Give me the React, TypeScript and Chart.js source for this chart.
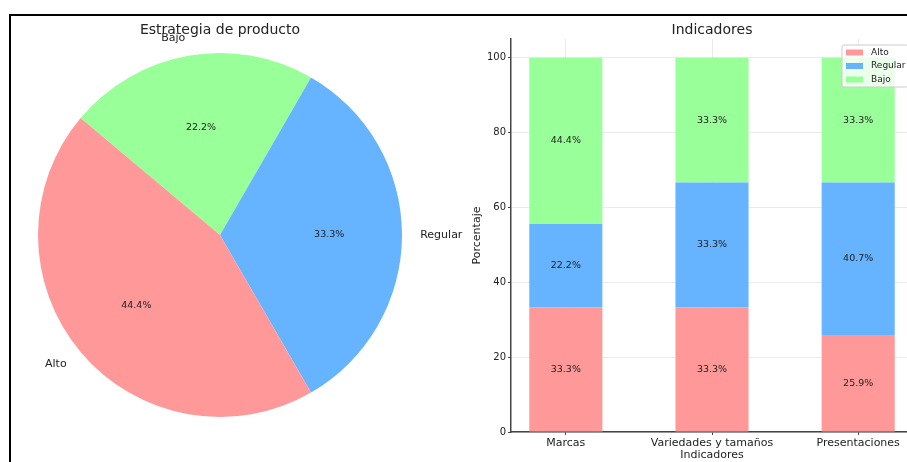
import React, { useEffect, useRef } from "react";
import { Chart, registerables } from "chart.js";

Chart.register(...registerables);

const FONT = '"DejaVu Sans", sans-serif';

// Pie data
const pieLabels = ["Alto", "Regular", "Bajo"];
const pieValues = [44.4, 33.3, 22.2];
const pieColors = ["#ff9999", "#66b3ff", "#99ff99"];

// Bar data
const barCategories = ["Marcas", "Variedades y tamaños", "Presentaciones"];
const seriesNames = ["Alto", "Regular", "Bajo"];
const altoValues = [33.3, 33.3, 25.9];
const regularValues = [22.2, 33.3, 40.7];
const bajoValues = [44.4, 33.3, 33.3];
const seriesColors = ["#ff9999", "#66b3ff", "#99ff99"];
const yTicks = [0, 20, 40, 60, 80, 100];

const pieTitle = "Estrategia de producto";
const barTitle = "Indicadores";
const xAxisTitle = "Indicadores";
const yAxisTitle = "Porcentaje";

const pieLabelPlugin = {
  id: "pieLabels",
  afterDraw(chart: any) {
    const ctx = chart.ctx;
    const area = chart.chartArea;
    const meta = chart.getDatasetMeta(0);
    const data = chart.data.datasets[0].data;
    ctx.save();
    ctx.fillStyle = "#222";
    ctx.textBaseline = "middle";
    ctx.textAlign = "center";
    ctx.font = `14px ${FONT}`;
    ctx.fillText(pieTitle, (area.left + area.right) / 2, 30);
    meta.data.forEach((arc: any, i: number) => {
      const p = arc.getProps(["x", "y", "startAngle", "endAngle", "outerRadius"], true);
      const mid = (p.startAngle + p.endAngle) / 2;
      const c = Math.cos(mid);
      const s = Math.sin(mid);
      ctx.font = `11px ${FONT}`;
      ctx.textAlign = c > -1e-9 ? "left" : "right";
      ctx.fillText(chart.data.labels[i], p.x + 1.1 * p.outerRadius * c, p.y + 1.1 * p.outerRadius * s);
      ctx.font = `9.5px ${FONT}`;
      ctx.textAlign = "center";
      ctx.fillText(Number(data[i]).toFixed(1) + "%", p.x + 0.6 * p.outerRadius * c, p.y + 0.6 * p.outerRadius * s);
    });
    ctx.restore();
  },
};

const barExtrasPlugin = {
  id: "barExtras",
  afterDatasetsDraw(chart: any) {
    const ctx = chart.ctx;
    ctx.save();
    ctx.font = `9.5px ${FONT}`;
    ctx.fillStyle = "#222";
    ctx.textAlign = "center";
    ctx.textBaseline = "middle";
    chart.data.datasets.forEach((ds: any, di: number) => {
      chart.getDatasetMeta(di).data.forEach((bar: any, i: number) => {
        const p = bar.getProps(["x", "y", "base"], true);
        const v = ds.data[i].y;
        ctx.fillText(v.toFixed(1) + "%", p.x, (p.y + p.base) / 2);
      });
    });
    ctx.restore();
  },
  afterDraw(chart: any) {
    const ctx = chart.ctx;
    const area = chart.chartArea;
    ctx.save();
    ctx.fillStyle = "#222";
    ctx.textAlign = "center";
    ctx.textBaseline = "middle";
    ctx.font = `14px ${FONT}`;
    ctx.fillText(barTitle, (area.left + area.right) / 2, 30);

    // legend (upper right, inside axes)
    const boxRight = area.right - 5;
    const boxW = 66;
    const boxLeft = boxRight - boxW;
    const boxTop = area.top + 6;
    const boxH = 42;
    ctx.beginPath();
    if (ctx.roundRect) ctx.roundRect(boxLeft, boxTop, boxW, boxH, 2);
    else ctx.rect(boxLeft, boxTop, boxW, boxH);
    ctx.fillStyle = "rgba(255,255,255,0.8)";
    ctx.fill();
    ctx.strokeStyle = "#cccccc";
    ctx.lineWidth = 1;
    ctx.stroke();
    ctx.font = `9px ${FONT}`;
    ctx.textAlign = "left";
    chart.data.datasets.forEach((ds: any, i: number) => {
      const cy = boxTop + 7.5 + i * 13.5;
      ctx.fillStyle = ds.backgroundColor;
      ctx.fillRect(boxLeft + 4, cy - 3, 17, 6);
      ctx.fillStyle = "#222";
      ctx.fillText(ds.label, boxLeft + 29, cy);
    });
    ctx.restore();
  },
};

export default function App() {
  const pieRef = useRef<HTMLCanvasElement>(null);
  const barRef = useRef<HTMLCanvasElement>(null);

  useEffect(() => {
    Chart.defaults.font.family = FONT;
    // matplotlib draws counter-clockwise from 140°; Chart.js draws clockwise,
    // so reverse the order and start at the same angle.
    const order = pieLabels.map((_, i) => pieLabels.length - 1 - i);
    const pie = new Chart(pieRef.current!, {
      type: "pie",
      data: {
        labels: order.map((i) => pieLabels[i]),
        datasets: [
          {
            data: order.map((i) => pieValues[i]),
            backgroundColor: order.map((i) => pieColors[i]),
            borderWidth: 0,
          },
        ],
      },
      options: {
        responsive: false,
        animation: false,
        rotation: -50,
        layout: { padding: { left: 38, top: 53, right: 78, bottom: 45 } },
        plugins: { legend: { display: false }, tooltip: { enabled: false } },
      },
      plugins: [pieLabelPlugin],
    } as any);

    const seriesValues = [altoValues, regularValues, bajoValues];
    const gridColor = "rgba(0,0,0,0.08)";
    const axisColor = "#444";
    const bar = new Chart(barRef.current!, {
      type: "bar",
      data: {
        datasets: seriesNames.map((name, si) => ({
          label: name,
          data: seriesValues[si].map((v, i) => ({ x: i, y: v })),
          backgroundColor: seriesColors[si],
          borderWidth: 0,
          categoryPercentage: 1,
          barPercentage: 0.5,
        })),
      },
      options: {
        responsive: false,
        animation: false,
        layout: { padding: { left: 27, top: 39, right: 47, bottom: 0 } },
        scales: {
          x: {
            type: "linear",
            stacked: true,
            offset: false,
            min: -0.375,
            max: 2.375,
            afterBuildTicks: (s: any) => {
              s.ticks = barCategories.map((_, i) => ({ value: i }));
            },
            afterFit: (s: any) => {
              s.height = 30;
            },
            ticks: {
              callback: (v: any) => barCategories[Math.round(v)] ?? "",
              font: { size: 11, family: FONT },
              color: "#222",
              padding: 2,
              maxRotation: 0,
              autoSkip: false,
            },
            grid: { offset: false, color: gridColor, tickColor: axisColor, tickLength: 3 },
            border: { color: axisColor, width: 1.5 },
            title: {
              display: true,
              text: xAxisTitle,
              font: { size: 11, family: FONT },
              color: "#222",
              padding: { top: 0, bottom: 0 },
            },
          },
          y: {
            stacked: true,
            min: 0,
            max: 104.9,
            afterBuildTicks: (s: any) => {
              s.ticks = yTicks.map((v) => ({ value: v }));
            },
            afterFit: (s: any) => {
              s.width = 44;
            },
            ticks: { font: { size: 10, family: FONT }, color: "#222", padding: 2 },
            grid: { color: gridColor, tickColor: axisColor, tickLength: 3 },
            border: { color: axisColor, width: 1.5 },
            title: {
              display: true,
              text: yAxisTitle,
              font: { size: 11, family: FONT },
              color: "#222",
              padding: { top: 4, bottom: 0 },
            },
          },
        },
        plugins: { legend: { display: false }, tooltip: { enabled: false } },
      },
      plugins: [barExtrasPlugin],
    } as any);

    return () => {
      pie.destroy();
      bar.destroy();
    };
  }, []);

  return (
    <div
      style={{
        position: "fixed",
        left: 0,
        top: 0,
        width: 907,
        height: 462,
        overflow: "hidden",
        background: "#fff",
      }}
    >
      <canvas
        ref={pieRef}
        width={480}
        height={462}
        style={{ position: "absolute", left: 0, top: 0, width: 480, height: 462 }}
      />
      <canvas
        ref={barRef}
        width={520}
        height={462}
        style={{ position: "absolute", left: 440, top: 0, width: 520, height: 462 }}
      />
      <div
        style={{
          position: "absolute",
          left: 9,
          top: 14,
          width: 1000,
          height: 1000,
          borderTop: "2px solid #000",
          borderLeft: "2px solid #000",
          pointerEvents: "none",
        }}
      />
    </div>
  );
}
